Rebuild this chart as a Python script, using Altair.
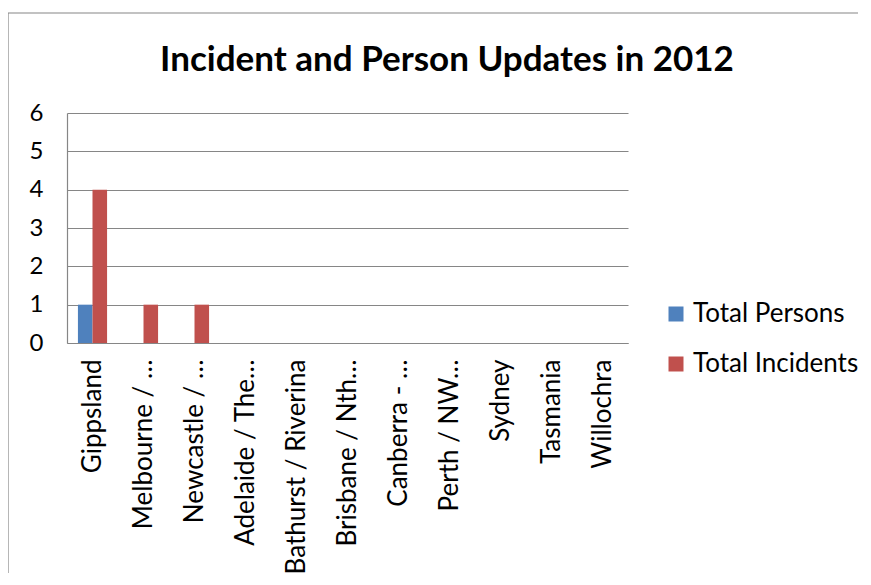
import altair as alt
import pandas as pd

categories = ["Gippsland", "Melbourne / …", "Newcastle / …", "Adelaide / The…",
              "Bathurst / Riverina", "Brisbane / Nth…", "Canberra - …", "Perth / NW…",
              "Sydney", "Tasmania", "Willochra"]
total_persons = [1, 0, 0, 0, 0, 0, 0, 0, 0, 0, 0]
total_incidents = [4, 1, 1, 0, 0, 0, 0, 0, 0, 0, 0]
series = ["Total Persons", "Total Incidents"]
colors = ["#4F81BD", "#C0504D"]
y_ticks = [0, 1, 2, 3, 4, 5, 6]
chart_title = "Incident and Person Updates in 2012"

rows = []
for i, c in enumerate(categories):
    rows.append({"region": c, "series": series[0], "value": total_persons[i]})
    rows.append({"region": c, "series": series[1], "value": total_incidents[i]})
df = pd.DataFrame(rows)

FONT = "Lato"
GRID = "#868686"

bars = alt.Chart(df).mark_bar().encode(
    x=alt.X("region:N", sort=categories, title=None,
            scale=alt.Scale(paddingInner=0.4286, paddingOuter=0.2143),
            axis=alt.Axis(labelAngle=270, labelFontSize=26, labelFont=FONT,
                          labelColor="#000000", labelPadding=16, ticks=False,
                          domainColor=GRID, domainWidth=1.2, grid=False,
                          labelLimit=400)),
    xOffset=alt.XOffset("series:N", sort=series),
    y=alt.Y("value:Q", title=None,
            scale=alt.Scale(domain=[0, 6], nice=False),
            axis=alt.Axis(values=y_ticks, labelFontSize=24, labelFont=FONT,
                          labelColor="#000000", labelPadding=24, ticks=False,
                          grid=True, gridColor=GRID, gridOpacity=1, gridWidth=1.2,
                          domainColor=GRID, domainWidth=1.2, format="d")),
    color=alt.Color("series:N", sort=series,
                    scale=alt.Scale(domain=series, range=colors),
                    legend=alt.Legend(title=None, orient="none", legendX=596, legendY=188,
                                      symbolType="square", symbolSize=225,
                                      symbolStrokeWidth=0, labelFontSize=26,
                                      labelFont=FONT, labelColor="#000000",
                                      rowPadding=24, labelOffset=4, labelLimit=300)),
)

border = alt.Chart(alt.Data(values=[{}])).mark_rect(
    fill=None, stroke=GRID, strokeWidth=1.2
).encode(
    x=alt.value(-59), x2=alt.value(900), y=alt.value(-100), y2=alt.value(490)
)

title = alt.Chart(alt.Data(values=[{"t": chart_title}])).mark_text(
    font=FONT, fontSize=35, fontWeight="bold", color="#000000",
    align="center", baseline="alphabetic"
).encode(
    text="t:N", x=alt.value(380), y=alt.value(-42)
)

chart = alt.layer(border, bars, title).properties(
    width=561, height=230,
    background="white",
    autosize=alt.AutoSizeParams(type="none"),
    padding={"left": 59, "top": 105, "right": 230, "bottom": 230},
).configure_view(stroke="transparent", strokeWidth=0)

chart.save("out.html", embed_options={"renderer": "svg", "actions": False})
